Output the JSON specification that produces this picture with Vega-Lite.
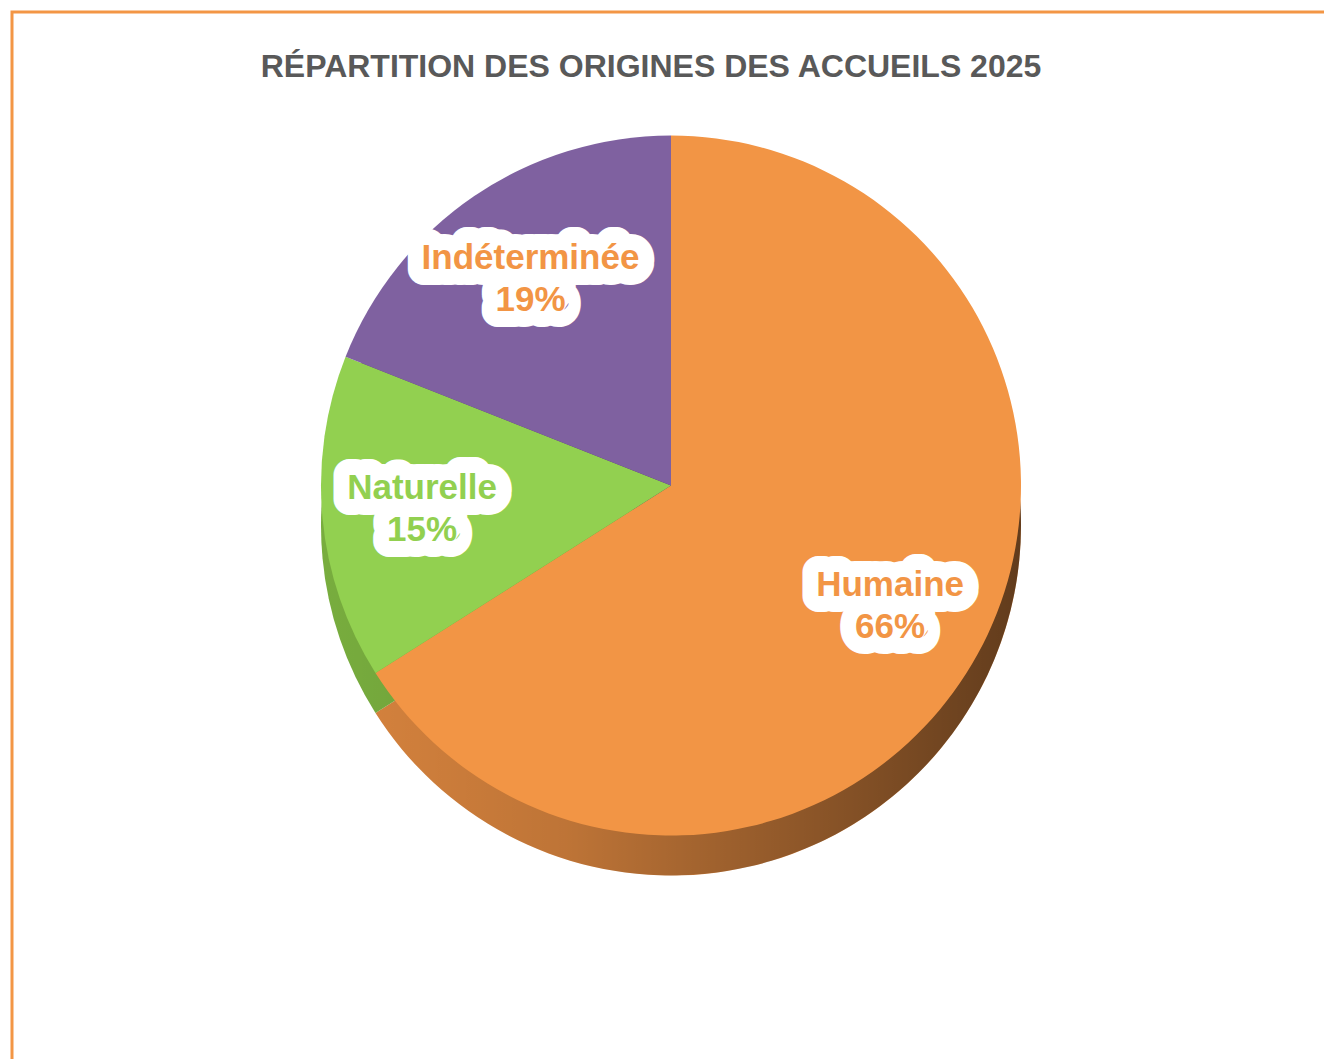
{
  "$schema": "https://vega.github.io/schema/vega-lite/v6.json",
  "width": 1324,
  "height": 1059,
  "autosize": {"type": "fit", "contains": "padding"},
  "padding": {"left": 12, "top": 12, "right": -6, "bottom": -6},
  "background": "white",
  "view": {"stroke": "#F39645", "strokeWidth": 3, "fill": "white"},
  "title": {
    "text": "RÉPARTITION DES ORIGINES DES ACCUEILS 2025",
    "font": "Liberation Sans",
    "fontSize": 32,
    "fontWeight": "bold",
    "color": "#595959",
    "anchor": "middle",
    "offset": -72,
    "dx": -20
  },
  "data": {
    "values": [
      {"Origine": "Humaine", "part": 0.66, "ordre": 1},
      {"Origine": "Naturelle", "part": 0.15, "ordre": 2},
      {"Origine": "Indéterminée", "part": 0.19, "ordre": 3}
    ]
  },
  "layer": [
    {
      "mark": {"type": "arc", "outerRadius": 350, "yOffset": -13},
      "encoding": {
        "theta": {"field": "part", "type": "quantitative", "stack": true},
        "order": {"field": "ordre", "type": "quantitative"},
        "color": {
          "field": "Origine",
          "type": "nominal",
          "scale": {"domain": ["Humaine", "Naturelle", "Indéterminée"], "range": ["#D8843E", "#78AD3E", "#5E4878"]},
          "legend": null
        }
      }
    },
    {
      "mark": {
        "type": "arc",
        "outerRadius": 350,
        "yOffset": -13,
        "fill": {
          "gradient": "linear",
          "x1": 0, "x2": 1, "y1": 0, "y2": 0,
          "stops": [
            {"offset": 0, "color": "rgba(0,0,0,0)"},
            {"offset": 0.35, "color": "rgba(0,0,0,0.12)"},
            {"offset": 1, "color": "rgba(0,0,0,0.55)"}
          ]
        }
      },
      "encoding": {
        "theta": {"aggregate": "sum", "field": "part", "type": "quantitative"}
      }
    },
    {
      "mark": {"type": "arc", "outerRadius": 350, "yOffset": -53},
      "encoding": {
        "theta": {"field": "part", "type": "quantitative", "stack": true},
        "order": {"field": "ordre", "type": "quantitative"},
        "color": {
          "field": "Origine",
          "type": "nominal",
          "scale": {"domain": ["Humaine", "Naturelle", "Indéterminée"], "range": ["#F29545", "#92D050", "#7F61A0"]},
          "legend": null
        }
      }
    },
    {
      "mark": {"type": "text", "radius": 250, "yOffset": -53, "dy": -21, "font": "Liberation Sans", "fontWeight": "bold", "fontSize": 35, "color": "white", "stroke": "white", "strokeWidth": 32, "strokeJoin": "round"},
      "encoding": {
        "theta": {"field": "part", "type": "quantitative", "stack": true},
        "order": {"field": "ordre", "type": "quantitative"},
        "text": {"field": "Origine", "type": "nominal"}
      }
    },
    {
      "mark": {"type": "text", "radius": 250, "yOffset": -53, "dy": 21, "font": "Liberation Sans", "fontWeight": "bold", "fontSize": 35, "color": "white", "stroke": "white", "strokeWidth": 32, "strokeJoin": "round"},
      "encoding": {
        "theta": {"field": "part", "type": "quantitative", "stack": true},
        "order": {"field": "ordre", "type": "quantitative"},
        "text": {"field": "part", "type": "quantitative", "format": ".0%"}
      }
    },
    {
      "mark": {"type": "text", "radius": 250, "yOffset": -53, "dy": -21, "font": "Liberation Sans", "fontWeight": "bold", "fontSize": 35},
      "encoding": {
        "theta": {"field": "part", "type": "quantitative", "stack": true},
        "order": {"field": "ordre", "type": "quantitative"},
        "text": {"field": "Origine", "type": "nominal"},
        "color": {
          "field": "Origine",
          "type": "nominal",
          "scale": {"domain": ["Humaine", "Naturelle", "Indéterminée"], "range": ["#F29545", "#92D050", "#F29545"]},
          "legend": null
        }
      }
    },
    {
      "mark": {"type": "text", "radius": 250, "yOffset": -53, "dy": 21, "font": "Liberation Sans", "fontWeight": "bold", "fontSize": 35},
      "encoding": {
        "theta": {"field": "part", "type": "quantitative", "stack": true},
        "order": {"field": "ordre", "type": "quantitative"},
        "text": {"field": "part", "type": "quantitative", "format": ".0%"},
        "color": {
          "field": "Origine",
          "type": "nominal",
          "scale": {"domain": ["Humaine", "Naturelle", "Indéterminée"], "range": ["#F29545", "#92D050", "#F29545"]},
          "legend": null
        }
      }
    }
  ],
  "resolve": {"scale": {"color": "independent"}}
}
